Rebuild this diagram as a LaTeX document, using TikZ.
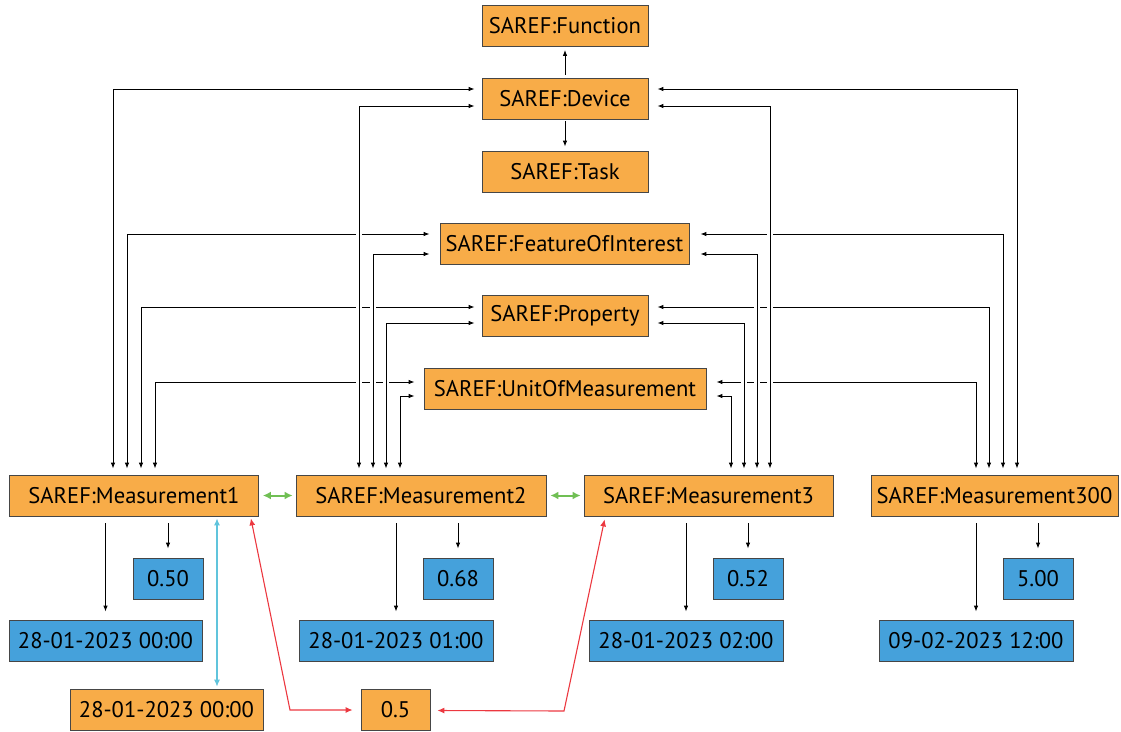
\documentclass[tikz,border=0pt]{standalone}
\usepackage{fontspec}
\setmainfont{PT Sans}
\usetikzlibrary{arrows.meta,calc}
\definecolor{orng}{RGB}{248,172,72}
\definecolor{blu}{RGB}{69,161,219}
\definecolor{bordergray}{RGB}{70,70,70}
\definecolor{grn}{RGB}{112,191,84}
\definecolor{cyn}{RGB}{96,196,220}
\definecolor{rd}{RGB}{236,56,64}
\begin{document}
\begin{tikzpicture}[x=1pt,y=-1pt,
  box/.style={draw=bordergray,line width=0.8pt,inner sep=0pt,minimum height=41pt,
    font=\fontsize{22.6}{26}\selectfont,anchor=center},
  obox/.style={box,fill=orng},
  bbox/.style={box,fill=blu},
  conn/.style={line width=0.9pt,{Latex[length=6pt,width=4.5pt]}-{Latex[length=6pt,width=4.5pt]}},
  jump/.style={preaction={draw=white,line width=6pt,arrows=-}},
  sarrow/.style={line width=0.9pt,-{Latex[length=6pt,width=4.5pt]}},
  garrow/.style={grn,line width=2pt,{Latex[length=8pt,width=8pt]}-{Latex[length=8pt,width=8pt]}},
  carrow/.style={cyn,line width=1.1pt,{Latex[length=7pt,width=6pt]}-{Latex[length=7pt,width=6pt]}},
  rarrow/.style={rd,line width=1.1pt,{Latex[length=7pt,width=6pt]}-{Latex[length=7pt,width=6pt]}}
]
\useasboundingbox (0,0) rectangle (1121,731);

% top column
\node[obox,minimum width=166pt] (fn) at (565,26) {SAREF:Function};
\node[obox,minimum width=166pt] (dev) at (565,98.5) {SAREF:Device};
\node[obox,minimum width=166pt] (task) at (565,171.5) {SAREF:Task};
\node[obox,minimum width=249pt] (foi) at (564.5,243.5) {SAREF:FeatureOfInterest};
\node[obox,minimum width=166pt] (prop) at (565,316) {SAREF:Property};
\node[obox,minimum width=282pt] (uom) at (565,388.5) {SAREF:UnitOfMeasurement};

% measurements
\node[obox,minimum width=249pt] (m1) at (134,495.5) {SAREF:Measurement1};
\node[obox,minimum width=250pt] (m2) at (421,495.5) {SAREF:Measurement2};
\node[obox,minimum width=249pt] (m3) at (708.5,495.5) {SAREF:Measurement3};
\node[obox,minimum width=247pt] (m300) at (994.5,495.5) {SAREF:Measurement300};

% values
\node[bbox,minimum width=70pt] (v1) at (168,578.5) {0.50};
\node[bbox,minimum width=193pt] (d1) at (105.5,640.5) {28-01-2023 00:00};
\node[bbox,minimum width=70pt] (v2) at (458,578.5) {0.68};
\node[bbox,minimum width=194pt] (d2) at (396,640.5) {28-01-2023 01:00};
\node[bbox,minimum width=70pt] (v3) at (748,578.5) {0.52};
\node[bbox,minimum width=194pt] (d3) at (686,640.5) {28-01-2023 02:00};
\node[bbox,minimum width=70pt] (v4) at (1038,578.5) {5.00};
\node[bbox,minimum width=194pt] (d4) at (976,640.5) {09-02-2023 12:00};
\node[obox,minimum width=193pt] (t1) at (166.5,709.5) {28-01-2023 00:00};
\node[obox,minimum width=69pt] (half) at (395.5,709.5) {0.5};

% device column arrows
\draw[sarrow] ($(dev.north)+(0,-3)$) -- ($(fn.south)+(0,3)$);
\draw[sarrow] ($(dev.south)+(0,2)$) -- ($(task.north)+(0,-4)$);

% outer connectors (Measurement1, Measurement300)
\draw[conn] ($(dev.west)+(-7,-9.5)$) -| ($(m1.north)+(-21,-6)$);
\draw[conn] ($(foi.west)+(-10,-9.5)$) -| ($(m1.north)+(-7,-6)$);
\draw[conn] ($(prop.west)+(-7,-9)$) -| ($(m1.north)+(7,-6)$);
\draw[conn] ($(uom.west)+(-9,-6.5)$) -| ($(m1.north)+(21,-6)$);
\draw[conn] ($(dev.east)+(9,-9.5)$) -| ($(m300.north)+(22.5,-6)$);
\draw[conn] ($(foi.east)+(11,-9.5)$) -| ($(m300.north)+(8.5,-6)$);
\draw[conn] ($(prop.east)+(9,-9)$) -| ($(m300.north)+(-5.5,-6)$);
\draw[conn] ($(uom.east)+(10,-6.5)$) -| ($(m300.north)+(-18.5,-6)$);

% inner connectors (Measurement2, Measurement3) with line jumps
\draw[conn,jump] ($(dev.west)+(-7,7.5)$) -| ($(m2.north)+(-62,-6)$);
\draw[conn,jump] ($(foi.west)+(-10,10.5)$) -| ($(m2.north)+(-48,-6)$);
\draw[conn,jump] ($(prop.west)+(-7,7)$) -| ($(m2.north)+(-35,-6)$);
\draw[conn,jump] ($(uom.west)+(-9,7.5)$) -| ($(m2.north)+(-21,-6)$);
\draw[conn,jump] ($(dev.east)+(9,7.5)$) -| ($(m3.north)+(61.5,-6)$);
\draw[conn,jump] ($(foi.east)+(11,10.5)$) -| ($(m3.north)+(48.5,-6)$);
\draw[conn,jump] ($(prop.east)+(9,7)$) -| ($(m3.north)+(35.5,-6)$);
\draw[conn,jump] ($(uom.east)+(10,7.5)$) -| ($(m3.north)+(22.5,-6)$);

% measurement to values
\draw[sarrow] ($(m1.south -| d1.north)+(0,7)$) -- ($(d1.north)+(0,-8)$);
\draw[sarrow] ($(m1.south -| v1.north)+(0,7)$) -- ($(v1.north)+(0,-9)$);
\draw[sarrow] ($(m2.south -| d2.north)+(0,7)$) -- ($(d2.north)+(0,-8)$);
\draw[sarrow] ($(m2.south -| v2.north)+(0,7)$) -- ($(v2.north)+(0,-9)$);
\draw[sarrow] ($(m3.south -| d3.north)+(0,7)$) -- ($(d3.north)+(0,-8)$);
\draw[sarrow] ($(m3.south -| v3.north)+(0,7)$) -- ($(v3.north)+(0,-9)$);
\draw[sarrow] ($(m300.south -| d4.north)+(0,7)$) -- ($(d4.north)+(0,-8)$);
\draw[sarrow] ($(m300.south -| v4.north)+(0,7)$) -- ($(v4.north)+(0,-9)$);

% green links between measurements
\draw[garrow] ($(m1.east)+(4,0)$) -- ($(m2.west)+(-3,0)$);
\draw[garrow] ($(m2.east)+(4,0)$) -- ($(m3.west)+(-3,0)$);

% cyan link
\draw[carrow] ($(m1.south)+(83,2)$) -- ($(t1.north)+(50.5,-2)$);

% red links
\coordinate (rc1) at (290,710);
\coordinate (rc2) at (564,711);
\draw[rarrow] ($(m1.south east)+(-8,2)$) -- (rc1) -- ($(half.west)+(-8,0.5)$);
\draw[rarrow] ($(half.east)+(7,1)$) -- (rc2) -- ($(m3.south west)+(21,3)$);
\end{tikzpicture}
\end{document}
